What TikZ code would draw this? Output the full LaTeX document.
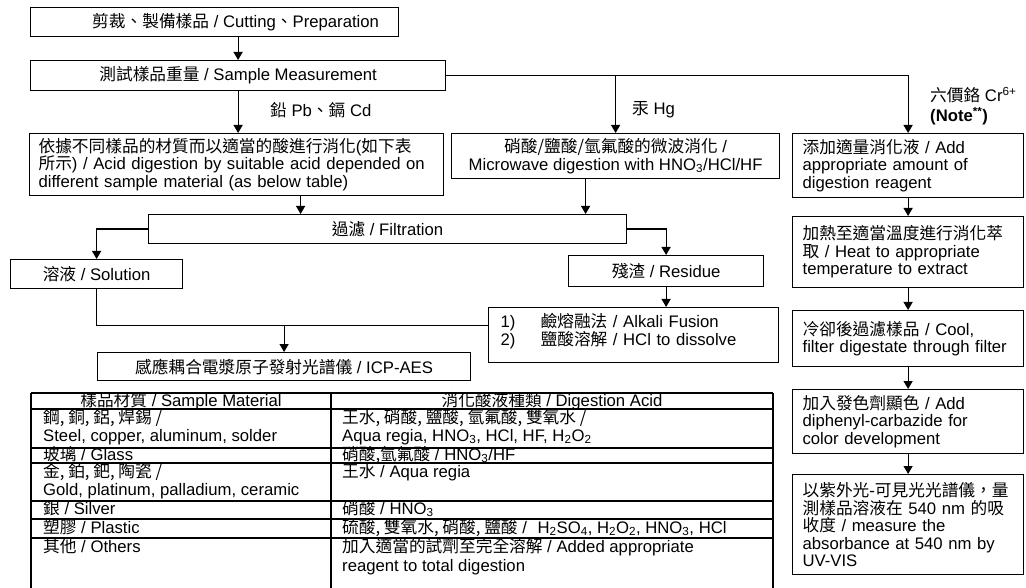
\documentclass[tikz,border=0pt]{standalone}
\usepackage{fontspec}
\setmainfont{Liberation Sans}
\newfontfamily\cjk{Noto Sans CJK TC}
\usetikzlibrary{arrows.meta,calc}
\newcommand{\zh}[1]{{\cjk #1}}
\begin{document}
\begin{tikzpicture}[x=1pt,y=-1pt,
  font=\fontsize{16.7}{17.5}\selectfont,
  box/.style={draw, line width=1.2pt, anchor=north west, inner sep=0pt},
  lbox/.style={box, align=left, inner xsep=10pt},
  arr/.style={line width=1.2pt, -{Triangle[width=9pt,length=8pt]}},
  ln/.style={line width=1.2pt},
  tl/.style={line width=1.1pt},
  cell/.style={anchor=base west, inner sep=0pt},
  hcell/.style={anchor=base, inner sep=0pt},
  lab/.style={anchor=west, inner sep=0pt},
]
\useasboundingbox (0,0) rectangle (1026,588);

% ---- main column ----
\node[box, minimum width=368pt, minimum height=29pt] (b1) at (30,7)
  {\hspace{42pt}\zh{剪裁、製備樣品} / Cutting\zh{、}Preparation};
\node[box, minimum width=415pt, minimum height=30pt] (b2) at (30,60)
  {\zh{測試樣品重量} / Sample Measurement};
\node[lab] (lpb) at (270,110) {\zh{鉛} Pb\zh{、鎘} Cd};
\node[lbox, inner xsep=9pt, text width=396pt, minimum width=414pt, minimum height=62pt] (b3) at (29,133)
  {\zh{依據不同樣品的材質而以適當的酸進行消化}(\zh{如下表}\\
   \zh{所示}) / Acid digestion by suitable acid depended on\\
   different sample material (as below table)};

\node[lab] (lhg) at (632,110) {\zh{汞} Hg};
\node[box, align=center, minimum width=328pt, minimum height=45pt] (hg) at (451,133)
  {\zh{硝酸/鹽酸/氫氟酸的微波消化} /\\Microwave digestion with HNO\textsubscript{3}/HCl/HF};

\node[lab, align=left, font=\fontsize{16.7}{20}\selectfont] (lcr) at (930,106)
  {\zh{六價鉻} Cr\textsuperscript{6+}\\\textbf{(Note\textsuperscript{**})}};

\node[box, minimum width=478pt, minimum height=29pt] (filt) at (148,214)
  {\zh{過濾} / Filtration};
\node[box, minimum width=172pt, minimum height=29pt] (sol) at (10,259)
  {\zh{溶液} / Solution};
\node[box, minimum width=195pt, minimum height=31pt] (res) at (568,255)
  {\zh{殘渣} / Residue};
\node[lbox, inner xsep=12pt, text width=266pt, minimum width=290pt, minimum height=55pt] (alk) at (488,307)
  {\makebox[40pt][l]{1)}\zh{鹼熔融法} / Alkali Fusion\\
   \makebox[40pt][l]{2)}\zh{鹽酸溶解} / HCl to dissolve\\[-6pt]\mbox{}};
\node[box, minimum width=373pt, minimum height=28pt] (icp) at (97,352)
  {\zh{感應耦合電漿原子發射光譜儀} / ICP-AES};

% ---- Cr column ----
\node[lbox, text width=211pt, minimum width=231pt, minimum height=64pt] (cr1) at (792,133)
  {\zh{添加適量消化液} / Add\\appropriate amount of\\digestion reagent};
\node[lbox, text width=211pt, minimum width=231pt, minimum height=71pt] (cr2) at (792,216)
  {\zh{加熱至適當溫度進行消化萃}\\\zh{取} / Heat to appropriate\\temperature to extract};
\node[lbox, text width=211pt, minimum width=231pt, minimum height=56pt] (cr3) at (792,310)
  {\zh{冷卻後過濾樣品} / Cool,\\filter digestate through filter};
\node[lbox, text width=211pt, minimum width=231pt, minimum height=64pt] (cr4) at (792,389)
  {\zh{加入發色劑顯色} / Add\\diphenyl-carbazide for\\color development};
\node[lbox, text width=211pt, minimum width=231pt, minimum height=100pt] (cr5) at (792,474)
  {\zh{以紫外光}-\zh{可見光光譜儀，量}\\\zh{測樣品溶液在} 540 nm \zh{的吸}\\\zh{收度} / measure the\\absorbance at 540 nm by\\UV-VIS};

% ---- connectors ----
\draw[arr] (b1.south -| b2.north) -- (b2.north);
\draw[arr] (b2.south) -- (b2.south |- b3.north);
\draw[arr] (b2.east) -| (cr1.north);
\draw[arr] (b2.east -| hg.north) -- (hg.north);
\draw[arr] ([xshift=-30pt]hg.south) -- ([xshift=-30pt]hg.south |- filt.north);
\draw[arr] ([xshift=64pt]b3.south) -- ([xshift=64pt]b3.south |- filt.north);
\draw[arr] (filt.west) -| (sol.north);
\draw[arr] (filt.east) -| (res.north);
\draw[arr] (res.south) -- (res.south |- alk.north);
\coordinate (alkin) at ([yshift=9.5pt]alk.west);
\draw[ln] (sol.south) |- (alkin);
\draw[arr] (icp.north |- alkin) -- (icp.north);
\draw[arr] (cr1.south) -- (cr2.north);
\draw[arr] (cr2.south) -- (cr3.north);
\draw[arr] (cr3.south) -- (cr4.north);
\draw[arr] (cr4.south) -- (cr5.north);

% ---- table ----
\foreach \yy in {393,409,448,463,501,519,538} \draw[tl] (31,\yy) -- (773,\yy);
\foreach \xx in {31,331,773} \draw[tl] (\xx,393) -- (\xx,588);

\node[hcell] (th1) at (181,406) {\zh{樣品材質} / Sample Material};
\node[hcell] (th2) at (552,406) {\zh{消化酸液種類} / Digestion Acid};

\node[cell] (a1) at (43,423) {\zh{鋼, 銅, 鋁, 焊錫 /}};
\node[cell] (a2) at (43,441) {Steel, copper, aluminum, solder};
\node[cell] (a3) at (43,460) {\zh{玻璃} / Glass};
\node[cell] (a4) at (43,477) {\zh{金, 鉑, 鈀, 陶瓷 /}};
\node[cell] (a5) at (43,495) {Gold, platinum, palladium, ceramic};
\node[cell] (a6) at (43,514) {\zh{銀} / Silver};
\node[cell] (a7) at (43,533) {\zh{塑膠} / Plastic};
\node[cell] (a8) at (43,552) {\zh{其他} / Others};

\node[cell] (c1) at (342,423) {\zh{王水, 硝酸, 鹽酸, 氫氟酸, 雙氧水 /}};
\node[cell] (c2) at (342,441) {Aqua regia, HNO\textsubscript{3}, HCl, HF, H\textsubscript{2}O\textsubscript{2}};
\node[cell] (c3) at (342,460) {\zh{硝酸,氫氟酸} / HNO\textsubscript{3}/HF};
\node[cell] (c4) at (342,477) {\zh{王水} / Aqua regia};
\node[cell] (c6) at (342,514) {\zh{硝酸} / HNO\textsubscript{3}};
\node[cell] (c7) at (342,533) {\zh{硫酸, 雙氧水, 硝酸, 鹽酸} /\hspace{6pt} H\textsubscript{2}SO\textsubscript{4}, H\textsubscript{2}O\textsubscript{2}, HNO\textsubscript{3}, HCl};
\node[cell] (c8) at (342,552) {\zh{加入適當的試劑至完全溶解} / Added appropriate};
\node[cell] (c9) at (342,571) {reagent to total digestion};
\end{tikzpicture}
\end{document}
